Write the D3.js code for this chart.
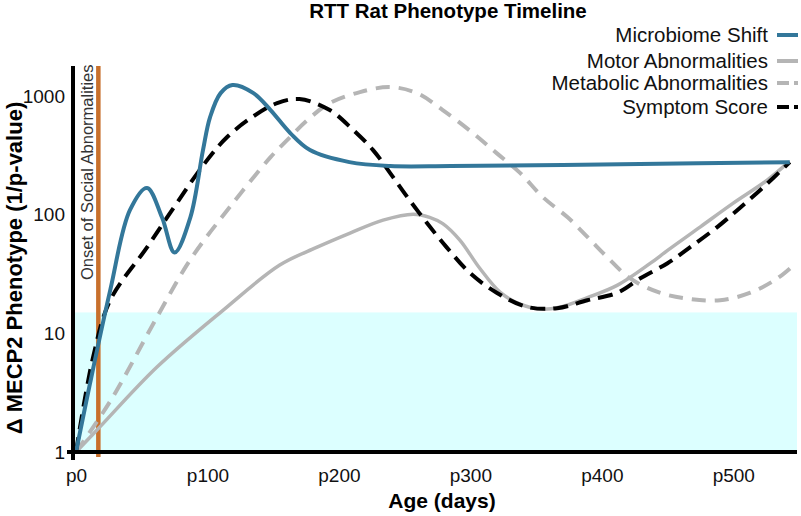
<!DOCTYPE html>
<html>
<head>
<meta charset="utf-8">
<script src="https://cdn.jsdelivr.net/npm/d3@7"></script>
<style>
  body { margin: 0; background: #fff; }
  svg { font-family: "Liberation Sans", Arial, sans-serif; }
</style>
</head>
<body>
<svg id="chart" width="801" height="516"></svg>
<script>
// values (days of age, 1/p-value)
var microbomeDays = [0, 10.7, 26, 41, 54, 65.4, 75, 87, 96.6, 102, 110, 119, 135, 148, 163, 178, 208, 239, 285, 429, 543];
var microbomeVals = [1, 3.8, 23, 109, 168, 95, 48, 95, 350, 664, 1057, 1236, 1057, 761, 487, 350, 277, 257, 257, 267, 277];

var motorDays = [0, 18, 61.6, 112, 155, 183, 208.5, 233.6, 256.5, 269, 279, 292, 307, 323, 338, 353, 368, 389, 412, 437, 450, 475, 500, 526, 542];
var motorVals = [1, 1.62, 5.2, 15.7, 37.6, 53, 70, 90, 101, 95, 84, 61, 35.5, 22, 17.6, 16, 16.6, 20, 25.5, 39, 50, 79, 125, 196, 277];

var metabolicDays = [0, 26.6, 61.6, 86.8, 117, 148, 160.6, 176, 193, 216, 239, 259.5, 279, 302, 320, 338, 355, 374, 389, 404, 421.6, 444, 467, 490, 513, 533.5, 546];
var metabolicVals = [1, 2.74, 13.7, 41.5, 116, 305, 425, 626, 871, 1079, 1188, 1057, 761, 487, 330, 224, 141, 95, 65, 44, 29, 22, 19.5, 19, 22, 29, 37.6];

var symptomDays = [0, 13, 26, 54, 71.5, 98, 115, 134, 153, 170, 193, 211, 226, 239, 252, 267, 282, 300, 320, 343, 366, 389, 412, 429, 450, 467, 488, 505, 523, 543];
var symptomVals = [1, 6.3, 19, 53, 103, 272, 451, 664, 871, 942, 761, 516, 350, 224, 141, 85, 53, 32, 22, 16.7, 16.3, 19, 22, 29, 39, 53, 79, 114, 171, 277];

var seriesNames = ['Microbiome Shift', 'Motor Abnormalities', 'Metabolic Abnormalities', 'Symptom Score'];
var xTicks = [0, 100, 200, 300, 400, 500];
var yTicks = [1, 10, 100, 1000];
var onsetDay = 17;
var bandTop = 15;

var svg = d3.select('#chart');

var x = d3.scaleLinear().domain([0, 550]).range([76, 799]);
var y = d3.scaleLog().domain([1, 1000]).range([452, 96]);

var styles = {
  'Microbiome Shift': { color: '#33779a', width: 4, dash: null },
  'Motor Abnormalities': { color: '#b5b5b5', width: 3.5, dash: null },
  'Metabolic Abnormalities': { color: '#b5b5b5', width: 4, dash: '14,9' },
  'Symptom Score': { color: '#000', width: 4, dash: '15,8' }
};

function zip(days, vals) {
  return days.map(function (d, i) { return { x: d, y: vals[i] }; });
}

var lines = [
  { name: 'Motor Abnormalities', values: zip(motorDays, motorVals) },
  { name: 'Metabolic Abnormalities', values: zip(metabolicDays, metabolicVals) },
  { name: 'Symptom Score', values: zip(symptomDays, symptomVals) },
  { name: 'Microbiome Shift', values: zip(microbomeDays, microbomeVals) }
];

// shaded band (below ~15)
svg.append('rect')
  .attr('x', x(0) - 3)
  .attr('y', y(bandTop))
  .attr('width', 797 - (x(0) - 3))
  .attr('height', y(1) - y(bandTop))
  .attr('fill', '#dcffff');

// onset marker
svg.append('line')
  .attr('x1', x(onsetDay)).attr('x2', x(onsetDay))
  .attr('y1', 66).attr('y2', 457)
  .attr('stroke', '#c8702c')
  .attr('stroke-width', 4.5);

svg.append('text')
  .attr('transform', 'translate(' + (x(onsetDay) - 5) + ',280) rotate(-90)')
  .attr('font-size', 16.5)
  .attr('fill', '#333')
  .text('Onset of Social Abnormalities');

var line = d3.line()
  .curve(d3.curveCatmullRom.alpha(0.5))
  .x(function (d) { return x(d.x); })
  .y(function (d) { return y(d.y); });

svg.selectAll('.line')
  .data(lines)
  .enter()
  .append('path')
  .attr('class', 'line')
  .attr('d', function (d) { return line(d.values); })
  .attr('fill', 'none')
  .attr('stroke', function (d) { return styles[d.name].color; })
  .attr('stroke-width', function (d) { return styles[d.name].width; })
  .attr('stroke-dasharray', function (d) { return styles[d.name].dash; });

// axes
var xAxis = d3.axisBottom(x)
  .tickValues(xTicks)
  .tickSize(0)
  .tickPadding(17)
  .tickFormat(function (d) { return 'p' + d; });

var gx = svg.append('g')
  .attr('transform', 'translate(0,' + y(1) + ')')
  .call(xAxis);
gx.select('.domain').remove();
gx.selectAll('text')
  .attr('font-size', 19)
  .attr('font-family', null)
  .attr('fill', '#111');

var yAxis = d3.axisLeft(y)
  .tickValues(yTicks)
  .tickSize(0)
  .tickPadding(8)
  .tickFormat(d3.format('d'));

var gy = svg.append('g')
  .attr('transform', 'translate(' + 73 + ',0)')
  .call(yAxis);
gy.select('.domain').remove();
gy.selectAll('text')
  .attr('font-size', 19)
  .attr('font-family', null)
  .attr('fill', '#111');

svg.append('line')
  .attr('x1', 67).attr('x2', 797)
  .attr('y1', y(1)).attr('y2', y(1))
  .attr('stroke', '#000').attr('stroke-width', 4);

svg.append('line')
  .attr('x1', 73).attr('x2', 73)
  .attr('y1', 66).attr('y2', 460)
  .attr('stroke', '#000').attr('stroke-width', 4);

// titles
svg.append('text')
  .attr('x', 448).attr('y', 18)
  .attr('text-anchor', 'middle')
  .attr('font-size', 20.5)
  .attr('font-weight', 'bold')
  .text('RTT Rat Phenotype Timeline');

svg.append('text')
  .attr('x', 442).attr('y', 508)
  .attr('text-anchor', 'middle')
  .attr('font-size', 21)
  .attr('font-weight', 'bold')
  .text('Age (days)');

svg.append('text')
  .attr('transform', 'translate(22,268) rotate(-90)')
  .attr('text-anchor', 'middle')
  .attr('font-size', 22)
  .attr('font-weight', 'bold')
  .text('\u0394 MECP2 Phenotype (1/p-value)');

// legend
var legendY = [35, 61, 83, 107];
var legend = svg.selectAll('.legend')
  .data(seriesNames)
  .enter()
  .append('g')
  .attr('class', 'legend')
  .attr('transform', function (d, i) { return 'translate(0,' + legendY[i] + ')'; });

legend.append('text')
  .attr('x', 768)
  .attr('dy', '0.36em')
  .attr('text-anchor', 'end')
  .attr('font-size', 20.5)
  .attr('fill', '#111')
  .text(function (d) { return d; });

legend.append('line')
  .attr('x1', 777).attr('x2', 798)
  .attr('stroke', function (d) { return styles[d].color; })
  .attr('stroke-width', 4)
  .attr('stroke-dasharray', function (d) { return styles[d].dash ? '12,5' : null; });
</script>
</body>
</html>
